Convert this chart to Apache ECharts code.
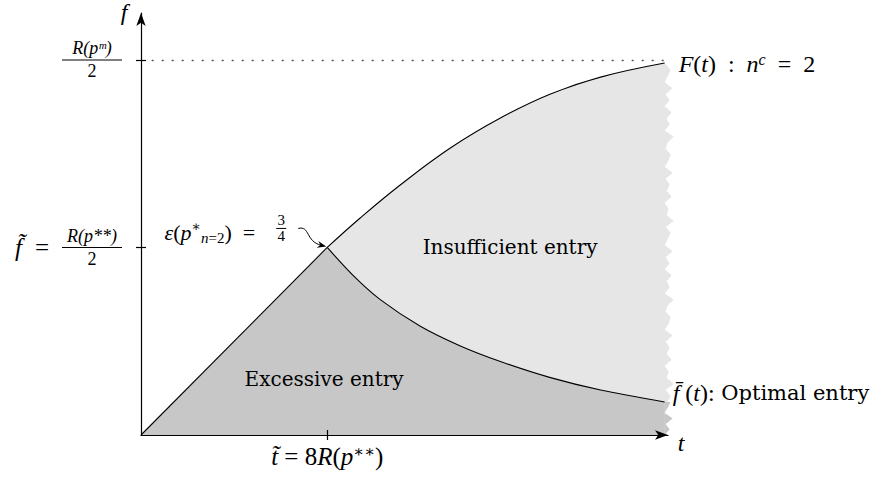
<!DOCTYPE html>
<html>
<head>
<meta charset="utf-8">
<script src="https://cdn.jsdelivr.net/npm/echarts@6/dist/echarts.min.js"></script>
<style>
html, body { margin: 0; padding: 0; background: #fff; }
#chart { width: 887px; height: 483px; }
</style>
</head>
<body>
<div id="chart"></div>
<script>
// units: t~ = 1 on the t axis, f~ = R(p**)/2 = 1 on the f axis
var tTicks = [1];
var fTicks = [1, 2];
var fMonopoly = 2;           // R(p^m)/2
var kink = [1, 1];           // (t~, f~)
var diagonal = [[0, 0], [1, 1]];
var bigF = [[1, 1], [1.177, 1.157], [1.392, 1.333], [1.661, 1.530], [1.930, 1.690],
            [2.199, 1.818], [2.468, 1.908], [2.812, 1.983]];
var fBar = [[1, 1], [1.14, 0.850], [1.285, 0.722], [1.5, 0.580], [1.715, 0.475],
            [1.93, 0.392], [2.199, 0.306], [2.468, 0.240], [2.812, 0.176]];
var tEdge = 2.812;           // where the shaded part is torn off

var tMax = 2.83, fMax = 2.25;
var serif = '"Liberation Serif", "DejaVu Serif", serif';
var textFont = '"DejaVu Serif", serif';
var light = '#e6e6e6', dark = '#c7c7c7';
// torn edge teeth (px, to the right of the edge)
var jag = [0, 5, 1, 8, 0, 3, 6, 1, 9, 2, 4, 0, 7, 2, 5, 1, 8, 0, 4, 6, 1, 3, 9, 0, 5, 2, 7];

var chart = echarts.init(document.getElementById('chart'), null, { renderer: 'svg' });

function renderEdge(params, api) {
    var top = bigF[bigF.length - 1][1], mid = fBar[fBar.length - 1][1];
    var p0 = api.coord([tEdge, 0]), pm = api.coord([tEdge, mid]), pt = api.coord([tEdge, top]);
    function zig(yFrom, yTo, k0) {
        var pts = [], n = Math.max(1, Math.round((yFrom - yTo) / 6));
        for (var i = 0; i <= n; i++) {
            pts.push([p0[0] + jag[(k0 + i) % jag.length], yFrom + (yTo - yFrom) * i / n]);
        }
        return pts;
    }
    var d = [[p0[0] - 2, p0[1]]].concat(zig(p0[1], pm[1], 0), [[p0[0] - 2, pm[1]]]);
    var l = [[p0[0] - 2, pm[1]]].concat(zig(pm[1], pt[1] + 1, 5), [[p0[0] - 2, pt[1] + 1]]);
    return {
        type: 'group',
        children: [
            { type: 'polygon', shape: { points: d }, style: { fill: dark } },
            { type: 'polygon', shape: { points: l }, style: { fill: light } }
        ]
    };
}

var yRich = {
    lp: { width: 47, fontSize: 1, lineHeight: 18, align: 'left' },
    num: { fontFamily: serif, fontStyle: 'italic', fontSize: 18, lineHeight: 18, width: 60, align: 'center', color: '#000' },
    den: { fontFamily: serif, fontSize: 18, lineHeight: 18, width: 60, align: 'center', color: '#000' },
    bar: { width: 60, height: 1, lineHeight: 5, backgroundColor: '#000', fontSize: 1, align: 'left' },
    eq: { fontFamily: serif, fontStyle: 'italic', fontSize: 25, lineHeight: 5, width: 20, align: 'left', color: '#000' },
    eqr: { fontFamily: serif, fontSize: 25, lineHeight: 5, width: 27, align: 'left', color: '#000' }
};

var option = {
    animation: false,
    backgroundColor: '#fff',
    grid: { left: 141, right: 219, top: 13, bottom: 48 },
    xAxis: [
        {
            type: 'value', min: 0, max: tMax, z: 10,
            splitLine: { show: false },
            axisLine: { lineStyle: { color: '#000', width: 1.2 }, symbol: ['none', 'arrow'], symbolSize: [7, 13] },
            axisTick: { customValues: tTicks, length: 5, lineStyle: { color: '#000', width: 1.2 } },
            axisLabel: {
                customValues: tTicks, margin: 8,
                formatter: function () { return '{it|t̃}{rm| = 8}{it|R}{rm|(}{it|p}{sup|∗∗}{rm|)}'; },
                rich: {
                    it: { fontFamily: serif, fontStyle: 'italic', fontSize: 25, lineHeight: 27, color: '#000', align: 'left' },
                    rm: { fontFamily: serif, fontSize: 25, lineHeight: 27, color: '#000', align: 'left' },
                    sup: { fontFamily: serif, fontSize: 16, lineHeight: 15, color: '#000', align: 'left', verticalAlign: 'top' }
                }
            }
        },
        {
            type: 'value', min: 0, max: tMax, position: 'bottom', z: 10,
            splitLine: { show: false }, axisLine: { show: false }, axisLabel: { show: false },
            axisTick: { customValues: tTicks, inside: true, length: 5, lineStyle: { color: '#000', width: 1.2 } }
        }
    ],
    yAxis: [
        {
            type: 'value', min: 0, max: fMax, z: 10,
            splitLine: { show: false },
            axisLine: { lineStyle: { color: '#000', width: 1.2 }, symbol: ['none', 'arrow'], symbolSize: [7, 13] },
            axisTick: { customValues: fTicks, length: 5, lineStyle: { color: '#000', width: 1.2 } },
            axisLabel: {
                customValues: fTicks, margin: 19, rich: yRich,
                formatter: function (v) {
                    if (v === 2) return '{num|R(pᵐ)}\n{bar| }\n{den|2}';
                    return '{lp| }{num|R(p**)}\n{eq|f̃}{eqr|=}{bar| }\n{lp| }{den|2}';
                }
            }
        },
        {
            type: 'value', min: 0, max: fMax, position: 'left', z: 10,
            splitLine: { show: false }, axisLine: { show: false }, axisLabel: { show: false },
            axisTick: { customValues: fTicks, inside: true, length: 5, lineStyle: { color: '#000', width: 1.2 } }
        }
    ],
    series: [
        {
            name: 'F(t)', type: 'line', data: bigF, smooth: 0.4, symbol: 'none',
            lineStyle: { color: '#000', width: 1.1 },
            areaStyle: { color: light, opacity: 1 },
            markLine: {
                silent: true, symbol: 'none', label: { show: false },
                lineStyle: { color: '#555', width: 1.3, type: [1, 9], cap: 'round' },
                data: [[{ coord: [0.06, fMonopoly] }, { coord: [tMax, fMonopoly] }]]
            }
        },
        {
            name: 'diagonal', type: 'line', data: diagonal, symbol: 'none',
            lineStyle: { color: '#000', width: 1.1 },
            areaStyle: { color: dark, opacity: 1 }
        },
        {
            name: 'fbar(t)', type: 'line', data: fBar, smooth: 0.3, symbol: 'none',
            lineStyle: { color: '#000', width: 1.1 },
            areaStyle: { color: dark, opacity: 1 },
            // hides the seam between the two dark areas at t~
            markLine: {
                silent: true, symbol: 'none', label: { show: false },
                lineStyle: { color: dark, width: 2, type: 'solid' },
                data: [[{ coord: [kink[0], 0] }, { coord: [kink[0], kink[1] - 0.02] }]]
            }
        },
        {
            name: 'edge', type: 'custom', silent: true, renderItem: renderEdge,
            data: [[tEdge, 0]]
        }
    ]
};
chart.setOption(option);

function px(p) { return chart.convertToPixel({ xAxisIndex: 0, yAxisIndex: 0 }, p); }
var K = px(kink), yTop = px([0, fMax]), xEnd = px([tMax, 0]);
var fEnd = px(bigF[bigF.length - 1]), bEnd = px(fBar[fBar.length - 1]);
var insuff = px([1.982, 1.0]), excess = px([0.983, 0.30]);

var aStart = [K[0] - 29, K[1] - 19], c1 = [K[0] - 17, K[1] - 22], c2 = [K[0] - 22, K[1] - 6], tip = [K[0] - 1, K[1] - 1];
var dx = tip[0] - c2[0], dy = tip[1] - c2[1], dl = Math.sqrt(dx * dx + dy * dy);
dx /= dl; dy /= dl;
var head = [tip, [tip[0] - 9 * dx + 3.5 * dy, tip[1] - 9 * dy - 3.5 * dx], [tip[0] - 6 * dx, tip[1] - 6 * dy], [tip[0] - 9 * dx - 3.5 * dy, tip[1] - 9 * dy + 3.5 * dx]];

var mathRich = {
    it: { fontFamily: serif, fontStyle: 'italic', fontSize: 24, lineHeight: 26, fill: '#000', align: 'left' },
    rm: { fontFamily: serif, fontSize: 24, lineHeight: 26, fill: '#000', align: 'left' },
    sup: { fontFamily: serif, fontStyle: 'italic', fontSize: 16, lineHeight: 14, fill: '#000', align: 'left', verticalAlign: 'top' },
    sups: { fontFamily: serif, fontSize: 14, lineHeight: 14, fill: '#000', align: 'left', verticalAlign: 'top' },
    sub: { fontFamily: serif, fontStyle: 'italic', fontSize: 15, lineHeight: 13, fill: '#000', align: 'left', verticalAlign: 'bottom' },
    txt: { fontFamily: textFont, fontSize: 21, lineHeight: 26, fill: '#000', align: 'left' }
};

chart.setOption({
    graphic: [
        { type: 'text', z: 100, x: yTop[0] - 17, y: yTop[1] - 1, style: { text: 'f', font: 'italic 24px ' + serif, fill: '#000', align: 'center', verticalAlign: 'middle' } },
        { type: 'text', z: 100, x: xEnd[0] + 13, y: xEnd[1] + 8, style: { text: 't', font: 'italic 24px ' + serif, fill: '#000', align: 'center', verticalAlign: 'middle' } },
        { type: 'text', z: 100, x: insuff[0], y: insuff[1], style: { text: 'Insufficient entry', font: '20px ' + textFont, fill: '#000', align: 'center', verticalAlign: 'middle' } },
        { type: 'text', z: 100, x: excess[0], y: excess[1], style: { text: 'Excessive entry', font: '20px ' + textFont, fill: '#000', align: 'center', verticalAlign: 'middle' } },
        {
            type: 'text', z: 100, x: fEnd[0] + 14, y: fEnd[1] + 1,
            style: { text: '{it|F}{rm|(}{it|t}{rm|)  :  }{it|n}{sup|c}{rm|  =  2}', align: 'left', verticalAlign: 'middle', rich: mathRich }
        },
        {
            type: 'text', z: 100, x: bEnd[0] + 8, y: bEnd[1] - 9,
            style: { text: '{it|f̄}{rm| (}{it|t}{rm|):}{txt| Optimal entry}', align: 'left', verticalAlign: 'middle', rich: mathRich }
        },
        {
            type: 'text', z: 100, x: K[0] - 72, y: K[1] - 15,
            style: { text: '{it|ε}{rm|(}{it|p}{sups|∗}{sub|n}{rm2|=2}{rm|)  =}', align: 'right', verticalAlign: 'middle',
                rich: Object.assign({}, mathRich, {
                    it: { fontFamily: serif, fontStyle: 'italic', fontSize: 22, lineHeight: 26, fill: '#000', align: 'left' },
                    rm: { fontFamily: serif, fontSize: 22, lineHeight: 26, fill: '#000', align: 'left' },
                    rm2: { fontFamily: serif, fontSize: 15, lineHeight: 13, fill: '#000', align: 'left', verticalAlign: 'bottom' }
                }) }
        },
        {
            type: 'text', z: 100, x: K[0] - 46, y: K[1] - 19,
            style: {
                text: '{n|3}\n{bar| }\n{n|4}', align: 'center', verticalAlign: 'middle',
                rich: {
                    n: { fontFamily: serif, fontSize: 15, lineHeight: 13, width: 10, align: 'center', fill: '#000' },
                    bar: { width: 10, height: 1, lineHeight: 3, backgroundColor: '#000', fontSize: 1, align: 'center' }
                }
            }
        },
        {
            type: 'bezierCurve', z: 100,
            shape: { x1: aStart[0], y1: aStart[1], cpx1: c1[0], cpy1: c1[1], cpx2: c2[0], cpy2: c2[1], x2: tip[0] - 5 * dx, y2: tip[1] - 5 * dy },
            style: { stroke: '#000', lineWidth: 1, fill: null }
        },
        { type: 'polygon', z: 100, shape: { points: head }, style: { fill: '#000' } }
    ]
});
</script>
</body>
</html>
